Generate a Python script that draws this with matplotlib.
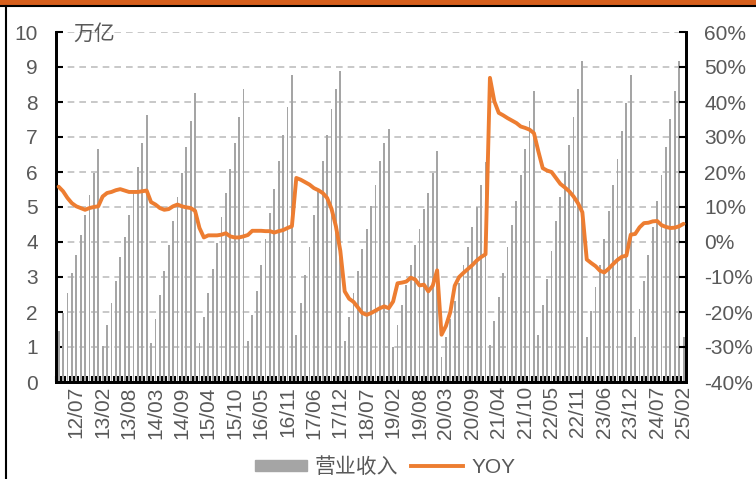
import numpy as np
import matplotlib.pyplot as plt
from matplotlib.lines import Line2D
from matplotlib.patches import Rectangle, Patch

plt.rcParams['font.family'] = ['Liberation Sans', 'Noto Sans CJK SC']

# cumulative revenue (万亿), Feb..Dec each year (Jan merged into Feb); 2012 starts at Mar
rev_2012 = [1.47, 1.98, 2.54, 3.11, 3.63, 4.20, 4.77, 5.34, 5.98, 6.66]
rev_2013 = [1.02, 1.64, 2.26, 2.89, 3.57, 4.14, 4.77, 5.40, 6.15, 6.83, 7.63]
rev_2014 = [1.11, 1.81, 2.50, 3.16, 3.91, 4.60, 5.29, 5.97, 6.71, 7.46, 8.26]
rev_2015 = [1.11, 1.85, 2.54, 3.23, 3.97, 4.71, 5.40, 6.09, 6.83, 7.57, 8.37]
rev_2016 = [1.17, 1.92, 2.60, 3.34, 4.09, 4.83, 5.51, 6.31, 7.06, 7.86, 8.77]
rev_2017 = [1.34, 2.26, 3.06, 3.86, 4.77, 5.46, 6.31, 7.06, 7.80, 8.37, 8.89]
rev_2018 = [1.17, 1.86, 2.54, 3.17, 3.80, 4.37, 5.03, 5.63, 6.31, 6.83, 7.23]
rev_2019 = [1.00, 1.63, 2.20, 2.77, 3.34, 3.91, 4.37, 4.94, 5.40, 5.97, 6.60]
rev_2020 = [0.71, 1.29, 1.80, 2.31, 2.83, 3.34, 3.86, 4.43, 5.00, 5.63, 6.30]
rev_2021 = [1.06, 1.74, 2.43, 3.11, 3.86, 4.49, 5.17, 5.91, 6.66, 7.46, 8.31]
rev_2022 = [1.34, 2.20, 2.94, 3.74, 4.60, 5.29, 6.03, 6.77, 7.57, 8.37, 9.17]
rev_2023 = [1.29, 2.03, 2.71, 3.34, 4.09, 4.89, 5.63, 6.37, 7.17, 7.97, 8.77]
rev_2024 = [1.29, 2.09, 2.89, 3.63, 4.43, 5.17, 5.91, 6.71, 7.51, 8.31, 9.17]
rev_2025 = [1.30]

# cumulative yoy growth (%)
yoy_2012 = [15.8, 14.5, 12.6, 11.1, 10.2, 9.7, 9.2, 9.7, 10.0, 10.2]
yoy_2013 = [13.0, 14.0, 14.3, 14.8, 15.1, 14.7, 14.3, 14.3, 14.3, 14.5, 14.7]
yoy_2014 = [11.4, 10.7, 9.7, 9.2, 9.4, 10.2, 10.7, 10.2, 9.9, 9.7, 8.9]
yoy_2015 = [4.0, 1.3, 1.9, 1.9, 1.9, 2.1, 2.5, 1.6, 1.3, 1.3, 1.6]
yoy_2016 = [2.0, 3.2, 3.2, 3.2, 3.1, 3.1, 2.7, 3.1, 3.4, 4.0, 4.5]
yoy_2017 = [18.3, 17.8, 17.1, 16.4, 15.4, 14.8, 14.0, 12.6, 9.5, 4.5, -2.5]
yoy_2018 = [-14.1, -16.2, -17.1, -18.7, -20.3, -20.8, -20.3, -19.6, -18.9, -18.4, -18.9]
yoy_2019 = [-17.0, -11.8, -11.6, -11.3, -10.2, -10.7, -12.4, -12.2, -14.1, -12.5, -8.1]
yoy_2020 = [-26.5, -24.0, -20.0, -12.5, -10.0, -8.8, -7.7, -6.6, -5.3, -4.3, -3.5]
yoy_2021 = [46.9, 40.2, 36.9, 36.2, 35.4, 34.7, 34.0, 33.0, 32.6, 32.1, 31.1]
yoy_2022 = [25.9, 21.1, 20.4, 20.0, 18.3, 16.6, 15.6, 14.5, 13.0, 11.1, 8.5]
yoy_2023 = [-5.0, -6.0, -6.9, -8.2, -8.7, -7.6, -6.3, -5.1, -4.2, -3.9, 2.1]
yoy_2024 = [2.3, 4.2, 5.4, 5.5, 5.9, 6.0, 4.8, 4.3, 4.0, 4.1, 4.5]
yoy_2025 = [5.2]

revenue = (rev_2012 + rev_2013 + rev_2014 + rev_2015 + rev_2016 + rev_2017 + rev_2018
           + rev_2019 + rev_2020 + rev_2021 + rev_2022 + rev_2023 + rev_2024 + rev_2025)
yoy = (yoy_2012 + yoy_2013 + yoy_2014 + yoy_2015 + yoy_2016 + yoy_2017 + yoy_2018
       + yoy_2019 + yoy_2020 + yoy_2021 + yoy_2022 + yoy_2023 + yoy_2024 + yoy_2025)

tick_labels = ['12/07', '13/02', '13/08', '14/03', '14/09', '15/04', '15/10', '16/05',
               '16/11', '17/06', '17/12', '18/07', '19/02', '19/08', '20/03', '20/09',
               '21/04', '21/10', '22/05', '22/11', '23/06', '23/12', '24/07', '25/02']
tick_pos = np.arange(4, len(revenue), 6)

x = np.arange(len(revenue))
txt = '#595959'
bar_c = '#A5A5A5'
line_c = '#ED7D31'

fig = plt.figure(figsize=(7.56, 4.79), dpi=100)
ax = fig.add_axes([56 / 756, 1 - 382 / 479, 630 / 756, 350 / 479])

ax.bar(x, revenue, width=0.42, color=bar_c, zorder=2)
ax.set_ylim(0, 10)
ax.set_xlim(-0.6, len(revenue) - 0.45)
ax.set_yticks(range(0, 11))
ax.yaxis.grid(True, linestyle=(0, (4, 3)), color='#BFBFBF', lw=1.2)
ax.set_axisbelow(True)

ax.set_xticks(tick_pos)
ax.set_xticklabels(tick_labels, rotation=90)
ax.set_xticks(np.arange(-0.5, len(revenue), 1), minor=True)
ax.tick_params(axis='x', which='major', length=0, pad=3, labelsize=15, labelcolor=txt)
ax.tick_params(axis='x', which='minor', length=4, width=1.5, direction='in')
ax.tick_params(axis='y', length=5, width=1.5, direction='in', pad=13, labelsize=15, labelcolor=txt)

ax2 = ax.twinx()
ax2.plot(x, yoy, color=line_c, lw=2.8, solid_joinstyle='round', solid_capstyle='round', zorder=3)
ax2.set_ylim(-40, 60)
ax2.set_yticks(range(-40, 61, 10))
ax2.set_yticklabels([f'{v}%' for v in range(-40, 61, 10)])
ax2.tick_params(axis='y', length=5, width=1.5, direction='in', pad=13, labelsize=15, labelcolor=txt)

for a in (ax, ax2):
    a.spines['top'].set_visible(False)
    for s in ('left', 'right', 'bottom'):
        a.spines[s].set_linewidth(2)
        a.spines[s].set_color('black')

fig.text(73 / 756, 1 - 34 / 479, '万亿', fontsize=15, color=txt, va='center', ha='left')

# page frame: orange band on top, thin black rules
fig.add_artist(Rectangle((0, 1 - 5 / 479), 1, 5 / 479, transform=fig.transFigure,
                         color='#D65F1C', lw=0))
fig.add_artist(Line2D([0, 1], [1 - 5.5 / 479] * 2, transform=fig.transFigure, color='black', lw=1.5))
fig.add_artist(Line2D([5.5 / 756] * 2, [0, 1 - 5.5 / 479], transform=fig.transFigure, color='black', lw=1.5))

handles = [Patch(color=bar_c), Line2D([], [], color=line_c, lw=2.8)]
fig.legend(handles, ['营业收入', 'YOY'], loc='center', bbox_to_anchor=(385 / 756, 1 - 467 / 479),
           ncol=2, frameon=False, fontsize=15, handlelength=2.5, handleheight=0.5,
           handletextpad=0.4, columnspacing=0.6, labelcolor=txt)

fig.savefig('out.png', dpi=100)
